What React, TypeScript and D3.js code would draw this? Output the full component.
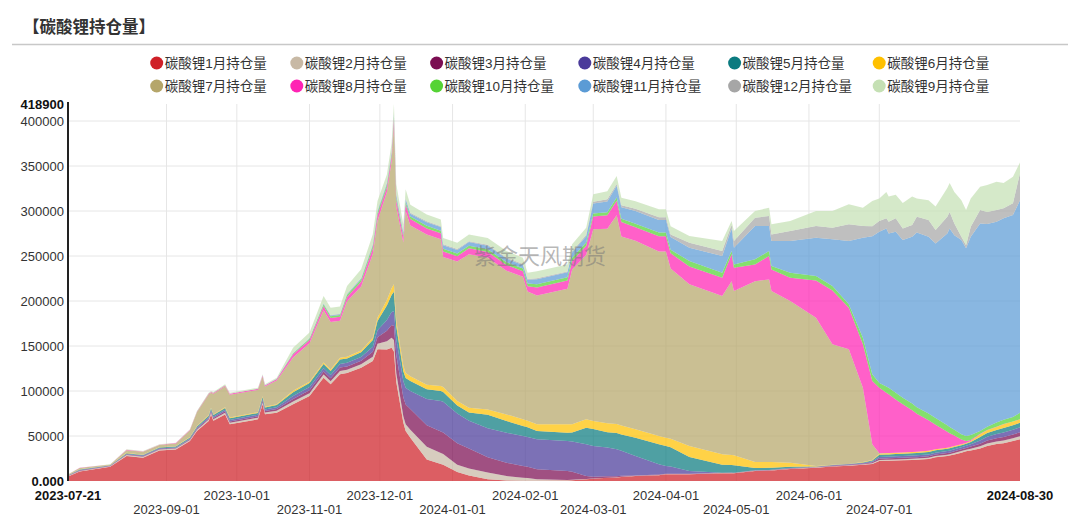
import { useEffect, useRef } from 'react';
import * as d3 from 'd3';

// trading dates sampled from the chart
const dates = [
  '2023-07-21', '2023-07-26', '2023-08-08', '2023-08-15', '2023-08-22', '2023-08-29', '2023-09-05', '2023-09-11',
  '2023-09-14', '2023-09-19', '2023-09-20', '2023-09-21', '2023-09-26', '2023-09-28', '2023-10-10', '2023-10-12',
  '2023-10-13', '2023-10-18', '2023-10-25', '2023-11-01', '2023-11-07', '2023-11-10', '2023-11-14', '2023-11-17',
  '2023-11-23', '2023-11-28', '2023-11-30', '2023-12-04', '2023-12-06', '2023-12-07', '2023-12-08', '2023-12-11',
  '2023-12-12', '2023-12-14', '2023-12-21', '2023-12-27', '2023-12-28', '2024-01-03', '2024-01-08', '2024-01-16',
  '2024-01-24', '2024-01-31', '2024-02-02', '2024-02-06', '2024-02-19', '2024-02-21', '2024-02-27', '2024-03-01',
  '2024-03-07', '2024-03-11', '2024-03-13', '2024-03-19', '2024-03-29', '2024-04-01', '2024-04-03', '2024-04-11',
  '2024-04-25', '2024-04-29', '2024-04-30', '2024-05-09', '2024-05-15', '2024-05-16', '2024-05-24', '2024-06-04',
  '2024-06-11', '2024-06-18', '2024-06-24', '2024-06-28',
  '2024-07-01', '2024-07-04', '2024-07-05', '2024-07-08', '2024-07-11', '2024-07-15', '2024-07-17', '2024-07-22',
  '2024-07-25', '2024-07-30', '2024-07-31', '2024-08-02', '2024-08-05', '2024-08-07', '2024-08-09', '2024-08-13',
  '2024-08-16', '2024-08-20', '2024-08-23', '2024-08-27', '2024-08-30',
];

// open interest per contract month (lots)
const lc01 = [
  5000, 10500, 15800, 27800, 25900, 34000, 35000, 44400, 55600, 66700, 74000, 67000, 74000, 63000, 68500, 85200,
  74100, 75900, 85200, 94400, 114800, 107400, 118500, 120000, 125900, 133300, 146300, 146000, 148100, 144000, 110000, 65000,
  55600, 48000, 24000, 19000, 18000, 10000, 6000, 2000, 500, 300, 300, 200, 500, 800, 1900, 2500,
  3500, 4000, 4500, 5600, 6500, 7400, 7400, 7400, 8500, 8600, 8600, 11100, 11500, 11600, 13300, 14800,
  16000, 17000, 18000, 19000,
  22200, 22400, 22500, 22800, 23000, 23400, 23600, 24500, 26300, 27800, 28200, 29500, 31500, 33000, 34000, 36000,
  39000, 41000, 42000, 44400, 46300,
];
const lc02 = [
  500, 700, 600, 1000, 1000, 1000, 1000, 1200, 1400, 1600, 1800, 1700, 1900, 1800, 1900, 2100,
  2000, 2200, 3000, 3200, 3400, 3300, 3700, 3600, 3800, 4800, 6200, 9400, 11200, 12700, 10000, 7000,
  7400, 9000, 14000, 12000, 12000, 8000, 8000, 7500, 5000, 3400, 3000, 1700, 600, 500, 300, 300,
  200, 200, 200, 200, 300, 300, 300, 300, 300, 300, 300, 300, 300, 300, 400, 400,
  500, 500, 600, 800,
  1200, 1200, 1200, 1200, 1300, 1300, 1300, 1400, 1400, 1500, 1500, 1600, 1700, 1700, 1900, 2500,
  2700, 2900, 3000, 3200, 3500,
];
const lc03 = [
  200, 400, 300, 600, 600, 600, 600, 800, 1000, 1200, 1400, 1300, 1500, 1400, 1500, 1700,
  1600, 1800, 3000, 3300, 3500, 3400, 3800, 3700, 3900, 5400, 7300, 11500, 13900, 15600, 20000, 21000,
  22000, 23000, 24000, 24000, 24000, 24000, 22000, 17000, 14800, 13000, 12500, 11100, 10000, 9000, 3400, 2000,
  1500, 1200, 1000, 400, 300, 300, 300, 300, 300, 300, 300, 300, 300, 300, 400, 400,
  500, 500, 700, 1000,
  1500, 1500, 1500, 1500, 1500, 1600, 1600, 1600, 1700, 1800, 1800, 1900, 2000, 2100, 2300, 3000,
  3400, 3700, 4000, 4200, 4300,
];
const lc04 = [
  300, 500, 400, 700, 700, 700, 700, 900, 1100, 1400, 1600, 1500, 1700, 1600, 1700, 1900,
  1800, 2000, 3200, 3500, 3700, 3600, 4000, 4000, 4200, 5700, 7700, 12100, 14500, 16400, 18000, 18000,
  18500, 20000, 29000, 34000, 34000, 33000, 31000, 32000, 33300, 33300, 33000, 33300, 33300, 33500, 35100, 34000,
  32000, 30000, 28000, 21600, 11400, 8700, 8000, 3100, 200, 200, 100, 200, 200, 200, 300, 300,
  400, 500, 700, 1000,
  1800, 1800, 1800, 1900, 1900, 1900, 2000, 2000, 2100, 2200, 2200, 2300, 2400, 2500, 2700, 3500,
  4000, 4500, 5000, 5200, 5500,
];
const lc05 = [
  400, 600, 500, 800, 800, 800, 900, 1100, 1400, 1600, 1900, 1800, 2000, 1900, 2000, 2300,
  2200, 2500, 4200, 4400, 4700, 4500, 5100, 4900, 5200, 7500, 10200, 16000, 19100, 21600, 14000, 11000,
  11000, 11000, 11000, 11000, 11000, 9000, 9000, 15000, 13000, 11100, 11000, 9300, 9300, 10000, 18600, 19000,
  17000, 18000, 18000, 20300, 22200, 22200, 21500, 15600, 8700, 8500, 8200, 2500, 2300, 2200, 1500, 300,
  300, 300, 600, 1000,
  2500, 2500, 2500, 2500, 2600, 2700, 2700, 2800, 2700, 2600, 2600, 2500, 2200, 2000, 2300, 4000,
  4300, 4600, 5000, 5000, 5000,
];
const lc06 = [
  200, 300, 200, 400, 300, 400, 400, 500, 600, 700, 800, 700, 900, 800, 900, 1000,
  900, 1000, 1600, 1600, 1700, 1700, 1900, 1800, 1900, 2600, 3600, 6000, 7300, 8200, 6000, 6000,
  5600, 5500, 5000, 5500, 5500, 5000, 5500, 6000, 7400, 7400, 7200, 7400, 9300, 9200, 9200, 9000,
  10000, 10000, 10000, 9300, 9300, 9200, 9500, 12200, 11600, 11100, 11000, 6600, 6400, 6400, 4500, 500,
  300, 200, 400, 500,
  1200, 1300, 1300, 1300, 1300, 1300, 1300, 1300, 1200, 1100, 1200, 1200, 1100, 1000, 1300, 2900,
  3000, 3300, 4000, 4000, 3900,
];
const lc07 = [
  600, 1500, 400, 3000, 3200, 2400, 3200, 7500, 15200, 22900, 16500, 23000, 23200, 25400, 24700, 21800,
  22300, 26400, 37000, 42600, 57800, 52700, 41000, 61700, 71300, 93000, 108000, 120000, 141000, 177400, 127000, 137000,
  180000, 167500, 167000, 163200, 144500, 154800, 170500, 168500, 159600, 158500, 143500, 143000, 150700, 172000, 183000, 213000,
  216000, 232000, 210000, 209500, 205000, 206900, 189000, 179600, 176000, 193000, 182500, 201000, 203000, 190000, 179600, 164800,
  133900, 127300, 82700, 17400,
  500, 400, 300, 300, 200, 100, 100, 100, 0, 0, 0, 0, 0, 0, 0, 0,
  0, 0, 0, 0, 0,
];
const lc08 = [
  100, 200, 200, 400, 400, 400, 400, 500, 700, 900, 900, 900, 1000, 1000, 1100, 1100,
  1100, 1300, 3500, 3800, 4500, 4500, 4500, 4800, 5300, 6000, 6000, 5500, 5500, 6500, 7000, 6000,
  7000, 7000, 6500, 6500, 6000, 6000, 6500, 6500, 6500, 6000, 6000, 9000, 9000, 9300, 10000, 14000,
  15000, 16000, 16000, 15000, 17000, 17000, 17000, 19900, 20300, 30000, 26000, 18700, 26000, 24000, 25900, 41300,
  59800, 46300, 48200, 70300,
  72800, 66900, 65200, 59100, 53400, 46300, 42000, 33900, 27200, 17600, 15500, 11500, 5100, 2100, 1000, 500,
  400, 300, 300, 200, 200,
];
const lc10 = [
  0, 0, 0, 0, 0, 0, 0, 0, 100, 100, 100, 100, 100, 100, 200, 200,
  200, 300, 1000, 1200, 2000, 2000, 2000, 2100, 2400, 2800, 2800, 2600, 2600, 3000, 3000, 2500,
  3000, 3000, 3000, 3000, 3000, 3000, 3000, 3000, 3000, 3000, 3000, 3700, 3700, 3700, 3500, 3500,
  3500, 3600, 3600, 4000, 4000, 4000, 4000, 6000, 5600, 3700, 3700, 5600, 5600, 3900, 5600, 5000,
  5000, 3700, 7400, 7500,
  5300, 7000, 7400, 7400, 7400, 7400, 7400, 7400, 7400, 7400, 7000, 6500, 6000, 5600, 5500, 3200,
  3600, 4700, 4700, 4800, 7000,
];
const lc11 = [
  0, 0, 0, 0, 0, 0, 0, 0, 0, 0, 0, 0, 0, 0, 100, 100,
  100, 100, 400, 500, 800, 800, 800, 900, 1000, 1500, 1500, 1800, 1800, 2500, 3000, 2500,
  3000, 3000, 4000, 4000, 4000, 4000, 4000, 4000, 4000, 4000, 4000, 5500, 5500, 5800, 7000, 11000,
  12000, 13000, 13000, 14000, 14000, 14000, 14000, 14900, 18500, 25000, 18600, 37000, 27700, 27800, 35200, 42600,
  51800, 70400, 111100, 153500,
  168000, 175700, 171300, 179000, 175200, 185500, 194000, 196500, 194000, 213000, 220700, 216000, 215800, 208500, 220500, 230400,
  225100, 223000, 224000, 224500, 236300,
];
const lc12 = [
  0, 0, 0, 0, 0, 0, 0, 0, 0, 0, 0, 0, 0, 0, 0, 0,
  0, 0, 200, 300, 500, 500, 500, 500, 600, 700, 700, 700, 700, 1000, 1000, 800,
  1000, 1000, 1000, 1000, 1000, 1000, 1000, 1000, 1000, 1000, 1000, 1000, 1000, 1100, 1500, 2000,
  2300, 2000, 2000, 2500, 3000, 3000, 3000, 5500, 5600, 4000, 7400, 9300, 11100, 7300, 11100, 12900,
  13000, 18500, 12900, 11000,
  12000, 11200, 13000, 15000, 12900, 12900, 17700, 18500, 15000, 18700, 18300, 13000, 3700, 3500, 11100, 15000,
  13500, 13000, 11000, 13000, 30000,
];
const lc09 = [
  100, 100, 100, 500, 400, 400, 400, 500, 700, 1000, 1000, 1000, 1100, 1100, 1100, 1100,
  1100, 1300, 5800, 6200, 8200, 8200, 8200, 8700, 9700, 10800, 10800, 9100, 9300, 10000, 11000, 8200,
  10000, 9000, 7500, 7500, 7000, 7000, 7500, 7500, 7500, 7000, 7000, 7800, 7800, 8100, 8000, 8200,
  9000, 9000, 8500, 8500, 9000, 9000, 9000, 7400, 11100, 4200, 11100, 7400, 9300, 11200, 11100, 16700,
  18500, 22200, 20400, 28000,
  25000, 29100, 28000, 26000, 28300, 31600, 20300, 22000, 26000, 31800, 32000, 35000, 40500, 39000, 31400, 26000,
  30000, 31600, 28000, 29500, 12000,
];

// legend / stacking order
const seriesNames = [
  '碳酸锂1月持仓量', '碳酸锂2月持仓量', '碳酸锂3月持仓量', '碳酸锂4月持仓量', '碳酸锂5月持仓量', '碳酸锂6月持仓量',
  '碳酸锂7月持仓量', '碳酸锂8月持仓量', '碳酸锂10月持仓量', '碳酸锂11月持仓量', '碳酸锂12月持仓量', '碳酸锂9月持仓量',
];
const seriesValues = [lc01, lc02, lc03, lc04, lc05, lc06, lc07, lc08, lc10, lc11, lc12, lc09];
const seriesColors = [
  '#cf2027', '#c8b9a5', '#7b0d52', '#4a3a9a', '#0b7b80', '#ffc000',
  '#b5a66a', '#ff23b4', '#55d335', '#5b9bd5', '#a6a6a6', '#c5e0b4',
];

const FONT = 'Arial, "Liberation Sans", "Noto Sans CJK SC", sans-serif';

export default function App() {
  const svgRef = useRef<SVGSVGElement>(null);

  useEffect(() => {
    if (!svgRef.current) return;
    const svg = d3.select(svgRef.current);
    svg.selectAll('*').remove();

    const left = 68;
    const right = 1020;
    const top = 104;
    const bottom = 481;

    const parse = d3.timeParse('%Y-%m-%d');
    const keys = seriesNames.map((_, i) => `s${i}`);
    const rows = dates.map((d, i) => {
      const r: any = { date: parse(d) };
      keys.forEach((k, j) => (r[k] = seriesValues[j][i]));
      return r;
    });

    const stacked = d3.stack<any>().keys(keys)(rows);
    const yMax = d3.max(stacked[stacked.length - 1], (d) => d[1]) as number;

    const x = d3
      .scaleTime()
      .domain(d3.extent(rows, (r: any) => r.date as Date) as [Date, Date])
      .range([left, right]);
    const y = d3.scaleLinear().domain([0, yMax]).range([bottom, top]);

    // title
    svg
      .append('text')
      .attr('x', 23)
      .attr('y', 33)
      .attr('font-family', '"Noto Sans CJK SC", sans-serif')
      .attr('font-weight', 700)
      .attr('font-size', 16.5)
      .attr('fill', '#333')
      .text('【碳酸锂持仓量】');
    svg
      .append('line')
      .attr('x1', 12)
      .attr('x2', 1068)
      .attr('y1', 44.5)
      .attr('y2', 44.5)
      .attr('stroke', '#c8c8c8')
      .attr('stroke-width', 1.5);

    // legend
    const colX = [156.7, 296.8, 436.6, 584.8, 734.6, 879.2];
    const rowY = [63, 86];
    const legend = svg.append('g');
    seriesNames.forEach((name, i) => {
      const cx = colX[i % 6];
      const cy = rowY[Math.floor(i / 6)];
      legend.append('circle').attr('cx', cx).attr('cy', cy).attr('r', 6.5).attr('fill', seriesColors[i]);
      legend
        .append('text')
        .attr('x', cx + 8)
        .attr('y', cy)
        .attr('dy', '0.36em')
        .attr('font-family', FONT)
        .attr('font-size', 13.5)
        .attr('fill', '#333')
        .text(name);
    });

    // grid
    const monthTicks = d3.timeMonth.range(new Date(2023, 8, 1), new Date(2024, 7, 1));
    const grid = svg.append('g').attr('stroke', '#e6e6e6').attr('stroke-width', 1);
    y.ticks(8)
      .filter((t) => t > 0)
      .forEach((t) => {
        grid.append('line').attr('x1', left).attr('x2', right).attr('y1', y(t)).attr('y2', y(t));
      });
    monthTicks.forEach((t) => {
      grid.append('line').attr('x1', x(t)).attr('x2', x(t)).attr('y1', top).attr('y2', bottom);
    });

    // stacked areas
    const area = d3
      .area<any>()
      .x((d) => x(d.data.date))
      .y0((d) => y(d[0]))
      .y1((d) => y(d[1]))
      .curve(d3.curveLinear);

    svg
      .append('g')
      .selectAll('path')
      .data(stacked)
      .enter()
      .append('path')
      .attr('d', area)
      .attr('fill', (_, i) => seriesColors[i])
      .attr('fill-opacity', 0.72);

    // watermark
    svg
      .append('text')
      .attr('x', 540)
      .attr('y', 264)
      .attr('text-anchor', 'middle')
      .attr('font-family', '"Noto Sans CJK SC", sans-serif')
      .attr('font-size', 22)
      .attr('fill', '#7a7a7a')
      .attr('fill-opacity', 0.55)
      .text('紫金天风期货');

    // y axis
    svg
      .append('line')
      .attr('x1', left)
      .attr('x2', left)
      .attr('y1', top - 2)
      .attr('y2', bottom)
      .attr('stroke', '#222')
      .attr('stroke-width', 2);

    const yLabels = [...y.ticks(8), yMax];
    yLabels.forEach((t) => {
      const bold = t === 0 || t === yMax;
      svg
        .append('text')
        .attr('x', left - 4)
        .attr('y', y(t))
        .attr('dy', '0.35em')
        .attr('text-anchor', 'end')
        .attr('font-family', FONT)
        .attr('font-size', 13)
        .attr('font-weight', bold ? 700 : 400)
        .attr('fill', bold ? '#111' : '#333')
        .text(t === 0 ? '0.000' : d3.format('d')(t));
    });

    // x axis labels, staggered on two rows
    const fmt = d3.timeFormat('%Y-%m-%d');
    const [d0, d1] = x.domain();
    const xLabel = (d: Date, row: number, bold: boolean) =>
      svg
        .append('text')
        .attr('x', x(d))
        .attr('y', row === 0 ? 500 : 514)
        .attr('text-anchor', 'middle')
        .attr('font-family', FONT)
        .attr('font-size', 13)
        .attr('font-weight', bold ? 700 : 400)
        .attr('fill', bold ? '#111' : '#333')
        .text(fmt(d));
    xLabel(d0, 0, true);
    monthTicks.forEach((t, i) => xLabel(t, i % 2 === 0 ? 1 : 0, false));
    xLabel(d1, 0, true);
  }, []);

  return (
    <svg
      ref={svgRef}
      width={1080}
      height={526}
      style={{ position: 'absolute', left: 0, top: 0, display: 'block', background: '#fff' }}
    />
  );
}
